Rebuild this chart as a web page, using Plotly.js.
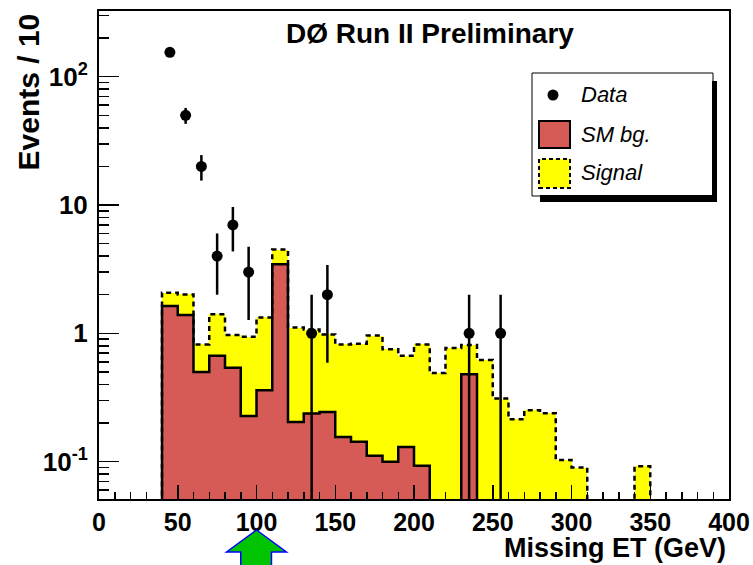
<!DOCTYPE html>
<html><head><meta charset="utf-8">
<script src="https://cdn.plot.ly/plotly-3.0.1.min.js"></script>
<style>html,body{margin:0;padding:0;background:#fff}#plot{width:753px;height:565px}</style>
</head><body><div id="plot"></div>
<script>
// ---------- data ----------
const binLowEdges = [40,50,60,70,80,90,100,110,120,130,140,150,160,170,180,190,200,210,220,230,240,250,260,270,280,290,300,310,320,330,340,350];
const binWidth = 10;
// SM background (events / 10 GeV)
const smBg = [1.63,1.39,0.50,0.67,0.54,0.227,0.36,3.45,0.204,0.237,0.244,0.156,0.143,0.111,0.100,0.130,0.093,0,0,0.48,0,0,0,0,0,0,0,0,0,0,0,0];
// Signal stacked on SM background (total)
const signalStack = [2.07,2.01,0.82,1.41,0.97,0.94,1.33,4.5,1.11,1.07,0.98,0.82,0.83,0.96,0.75,0.67,0.82,0.49,0.77,0.81,0.62,0.31,0.214,0.251,0.238,0.103,0.09,0,0,0,0.092,0];
// Data points
const dataX = [45,55,65,75,85,95,135,145,235,255];
const dataY = [155,50,20,4,7,3,1,2,1,1];
const dataErrUp = [12.4,7.1,4.5,2.0,2.65,1.73,1.0,1.41,1.0,1.0];
const dataErrDown = [12.4,7.1,4.5,2.0,2.65,1.73,1.0,1.41,1.0,1.0];
// ticks
const xTickVals = [0,50,100,150,200,250,300,350,400];
const yTickVals = [0.1,1,10,100];
const yTickText = ['10<sup>-1</sup>','1','10','10<sup>2</sup>'];
const arrowX = 100;

// ---------- helpers ----------
const xRange = [0,400];
const yRange = [-1.291, 2.512];
const L = 99, T = 11, W = 630, H = 488;
const px = x => (x - L) / W;
const py = y => (T + H - y) / H;
const xd = v => (v - xRange[0]) / (xRange[1] - xRange[0]);
const FLOOR = 1e-4;

function stepLine(vals){
  const xs = [binLowEdges[0]], ys = [FLOOR];
  vals.forEach((v,i)=>{ xs.push(binLowEdges[i]); ys.push(v > 0 ? v : FLOOR); });
  const lastEdge = binLowEdges[binLowEdges.length-1] + binWidth;
  const lastV = vals[vals.length-1] > 0 ? vals[vals.length-1] : FLOOR;
  xs.push(lastEdge); ys.push(lastV);
  xs.push(lastEdge); ys.push(FLOOR);
  return {xs, ys};
}
const centers = binLowEdges.map(e => e + binWidth/2);
const nz = a => a.map(v => v > 0 ? v : null);

const RED = '#d65a55', YEL = '#ffff00';
const FONT = 'Liberation Sans, Arial, Helvetica, sans-serif';

const sigStep = stepLine(signalStack);
const bgStep = stepLine(smBg);

const traces = [
  {type:'bar', x:centers, y:nz(signalStack), width:binWidth, marker:{color:YEL, line:{width:0}}, hoverinfo:'skip', showlegend:false},
  {type:'bar', x:centers, y:nz(smBg), width:binWidth, marker:{color:RED, line:{width:0}}, hoverinfo:'skip', showlegend:false},
  {type:'scatter', mode:'lines', x:sigStep.xs, y:sigStep.ys, line:{shape:'hv', color:'#000', width:2.5, dash:'5px,4px'}, hoverinfo:'skip', showlegend:false},
  {type:'scatter', mode:'lines', x:bgStep.xs, y:bgStep.ys, line:{shape:'hv', color:'#000', width:2.5}, hoverinfo:'skip', showlegend:false},
  {type:'scatter', mode:'markers', x:dataX, y:dataY,
   marker:{color:'#000', size:11, symbol:'circle'},
   error_y:{type:'data', symmetric:false, array:dataErrUp, arrayminus:dataErrDown, color:'#000', thickness:2.5, width:0},
   showlegend:false}
];

// minor ticks
const xMinor = [];
for (let v = 10; v < 400; v += 10) if (v % 50 !== 0) xMinor.push(v);
const yMinor = [];
for (let d = -2; d <= 2; d++) for (let k = 2; k <= 9; k++) yMinor.push(k * Math.pow(10, d));

const tickFont = {family:FONT, size:25, weight:'bold', color:'#000'};

const shapes = [
  // legend box + shadow
  {type:'rect', xref:'paper', yref:'paper', x0:px(532), x1:px(713), y0:py(196), y1:py(73), fillcolor:'#fff', line:{color:'#000', width:1}},
  {type:'rect', xref:'paper', yref:'paper', x0:px(712), x1:px(717), y0:py(202), y1:py(81), fillcolor:'#000', line:{width:0}},
  {type:'rect', xref:'paper', yref:'paper', x0:px(540), x1:px(717), y0:py(202), y1:py(195), fillcolor:'#000', line:{width:0}},
  {type:'circle', xref:'paper', yref:'paper', x0:px(547.5), x1:px(558.5), y0:py(100.5), y1:py(89.5), fillcolor:'#000', line:{width:0}},
  {type:'rect', xref:'paper', yref:'paper', x0:px(539), x1:px(570), y0:py(148), y1:py(121), fillcolor:RED, line:{color:'#000', width:2}},
  {type:'rect', xref:'paper', yref:'paper', x0:px(539), x1:px(570), y0:py(188), y1:py(159), fillcolor:YEL, line:{color:'#000', width:2, dash:'4px,3px'}},
  // green arrow under x = 100
  {type:'path', xref:'paper', yref:'paper', layer:'above',
   path: `M ${xd(arrowX)} ${py(530)} L ${xd(arrowX+19)} ${py(552)} L ${xd(arrowX+9.5)} ${py(552)} L ${xd(arrowX+9.5)} ${py(575)} L ${xd(arrowX-10)} ${py(575)} L ${xd(arrowX-10)} ${py(552)} L ${xd(arrowX-19)} ${py(552)} Z`,
   fillcolor:'#00c400', line:{color:'#0000ff', width:1.5}}
];

const legFont = {family:FONT, size:22, style:'italic', color:'#000'};
const annotations = [
  {xref:'paper', yref:'paper', x:px(430), y:py(33), xanchor:'center', yanchor:'middle', showarrow:false,
   text:'DØ Run II Preliminary', font:{family:FONT, size:28, weight:'bold', color:'#000'}},
  {xref:'paper', yref:'paper', x:px(728), y:py(548), xanchor:'right', yanchor:'middle', showarrow:false,
   text:'Missing ET (GeV)', font:{family:FONT, size:27, weight:'bold', color:'#000'}},
  {xref:'paper', yref:'paper', x:px(28), y:py(12), xanchor:'center', yanchor:'top', showarrow:false, textangle:-90,
   text:'Events / 10', font:{family:FONT, size:30, weight:'bold', color:'#000'}},
  {xref:'paper', yref:'paper', x:px(579), y:py(94), xanchor:'left', yanchor:'middle', showarrow:false, text:'Data', font:legFont},
  {xref:'paper', yref:'paper', x:px(579), y:py(134), xanchor:'left', yanchor:'middle', showarrow:false, text:'SM bg.', font:legFont},
  {xref:'paper', yref:'paper', x:px(579), y:py(172), xanchor:'left', yanchor:'middle', showarrow:false, text:'Signal', font:legFont}
];

const layout = {
  width:753, height:565,
  margin:{l:L, r:753-L-W, t:T, b:565-T-H, pad:0},
  paper_bgcolor:'#fff', plot_bgcolor:'#fff',
  barmode:'overlay', bargap:0,
  showlegend:false,
  xaxis:{range:xRange, tickmode:'array', tickvals:xTickVals, ticks:'inside', ticklen:14, tickwidth:1.5, tickcolor:'#000',
         minor:{tickmode:'array', tickvals:xMinor, ticks:'inside', ticklen:7, tickwidth:1.5, tickcolor:'#000', showgrid:false},
         showline:true, linecolor:'#000', linewidth:2, mirror:true, showgrid:false, zeroline:false,
         tickfont:tickFont, ticklabelstandoff:0, fixedrange:true},
  yaxis:{type:'log', range:yRange, tickmode:'array', tickvals:yTickVals, ticktext:yTickText, ticks:'inside', ticklen:20, tickwidth:1.5, tickcolor:'#000',
         minor:{tickmode:'array', tickvals:yMinor, ticks:'inside', ticklen:10, tickwidth:1.5, tickcolor:'#000', showgrid:false},
         showline:true, linecolor:'#000', linewidth:2, mirror:true, showgrid:false, zeroline:false,
         tickfont:{family:FONT, size:26, weight:'bold', color:'#000'}, ticklabelstandoff:4, fixedrange:true},
  shapes, annotations
};

Plotly.newPlot('plot', traces, layout, {displayModeBar:false, staticPlot:true});
</script>
</body></html>
